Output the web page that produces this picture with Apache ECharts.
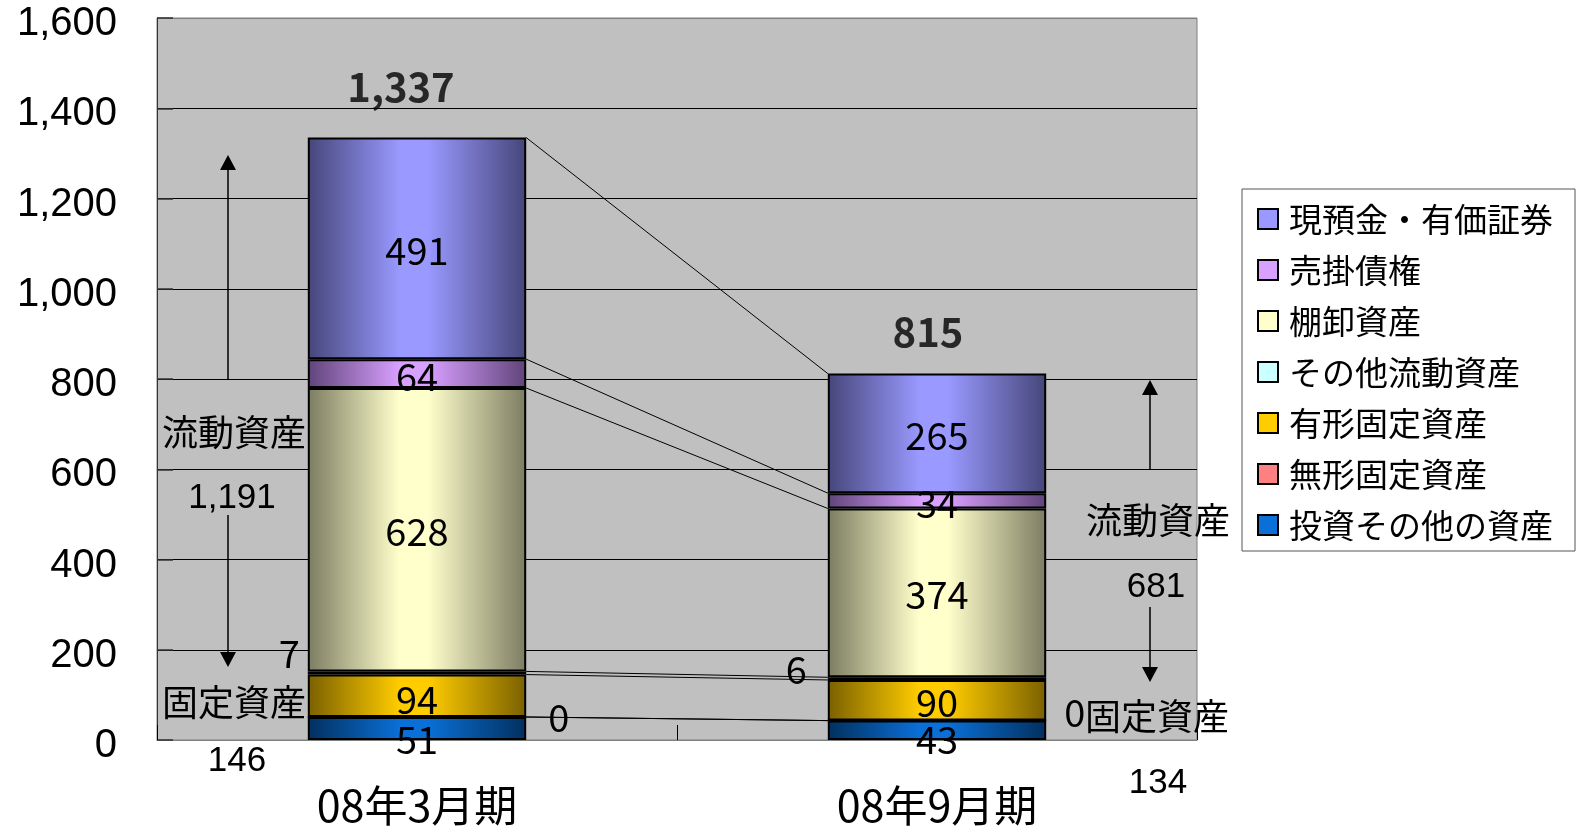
<!DOCTYPE html>
<html>
<head>
<meta charset="utf-8">
<script src="https://cdn.jsdelivr.net/npm/echarts@6/dist/echarts.min.js"></script>
<style>
  html, body { margin: 0; padding: 0; background: #fff; }
  #chart { width: 1582px; height: 833px; }
</style>
</head>
<body>
<div id="chart"></div>
<script>
// 期別
const categories = ['08年3月期', '08年9月期'];

// 資産内訳（億円）— 下から積み上げる順
const investOther  = [51, 43];    // 投資その他の資産
const intangible   = [0, 0];      // 無形固定資産
const tangible     = [94, 90];    // 有形固定資産
const otherCurrent = [7, 6];      // その他流動資産
const inventory    = [628, 374];  // 棚卸資産
const receivables  = [64, 34];    // 売掛債権
const cashSec      = [491, 265];  // 現預金・有価証券

// 合計・区分合計
const totals        = [1337, 815];
const currentTotals = [1191, 681];
const fixedTotals   = [146, 134];

// 縦軸
const yMin = 0, yMax = 1600, yStep = 200;

const JP = '"Noto Sans CJK JP", "Noto Sans", sans-serif';
const LAT = '"Liberation Sans", Arial, sans-serif';

const fmt = v => Number(v).toLocaleString('en-US');

// 系列定義（積み上げ順）
const stackDefs = [
  { name: '投資その他の資産', data: investOther,  light: '#0a6fd6', dark: '#02305f' },
  { name: '無形固定資産',     data: intangible,   light: '#ff8080', dark: '#804040' },
  { name: '有形固定資産',     data: tangible,     light: '#ffcc00', dark: '#7a6000' },
  { name: 'その他流動資産',   data: otherCurrent, light: '#ccffff', dark: '#668080' },
  { name: '棚卸資産',         data: inventory,    light: '#ffffcc', dark: '#7c7c62' },
  { name: '売掛債権',         data: receivables,  light: '#d8a0ff', dark: '#60447a' },
  { name: '現預金・有価証券', data: cashSec,      light: '#9999ff', dark: '#46467a' }
];

// 値ラベルの個別配置
const labelTweaks = {
  '投資その他の資産': [{ offset: [0, 11] }, { offset: [0, 9] }],
  '無形固定資産': [
    { position: 'right', distance: 21, offset: [0, 1] },
    { position: 'right', distance: 17, offset: [0, -8] }
  ],
  'その他流動資産': [
    { position: 'left', distance: 8, offset: [0, -19] },
    { position: 'left', distance: 21, offset: [0, -9] }
  ],
  '売掛債権': [{ offset: [0, 3] }, { offset: [0, 3] }],
  '有形固定資産': [{ offset: [0, 4] }, { offset: [0, 2] }]
};

const barWidthRatio = 0.42;

function shade(light, dark) {
  return new echarts.graphic.LinearGradient(0, 0, 1, 0, [
    { offset: 0, color: dark },
    { offset: 0.42, color: light },
    { offset: 0.55, color: light },
    { offset: 1, color: dark }
  ]);
}

const barSeries = stackDefs.map(d => ({
  name: d.name,
  type: 'bar',
  stack: 'assets',
  barWidth: (barWidthRatio * 100) + '%',
  z: 3,
  itemStyle: { color: shade(d.light, d.dark), borderColor: '#000', borderWidth: 2 },
  label: {
    show: true, position: 'inside', color: '#000',
    fontFamily: JP, fontSize: 38, offset: [0, 2]
  },
  data: d.data.map((v, i) => {
    const t = labelTweaks[d.name] && labelTweaks[d.name][i];
    return t ? { value: v, label: t } : { value: v };
  })
}));

// 各系列の上端（累積値）を期間の間で結ぶ
const cumRows = [];
(function () {
  const acc = [0, 0];
  stackDefs.forEach(d => {
    acc[0] += d.data[0];
    acc[1] += d.data[1];
    cumRows.push([0, acc[0], acc[1]]);
  });
})();

const seriesLines = {
  type: 'custom',
  z: 2,
  silent: true,
  encode: { x: 0, y: 1 },
  data: cumRows,
  renderItem: (params, api) => {
    const a = api.coord([0, api.value(1)]);
    const b = api.coord([1, api.value(2)]);
    const half = api.size([1, 0])[0] * barWidthRatio / 2;
    return {
      type: 'line',
      shape: { x1: a[0] + half, y1: a[1], x2: b[0] - half, y2: b[1] },
      style: { stroke: '#000', lineWidth: 1 }
    };
  }
};

// 合計ラベル
const totalOffsets = [[-16, -50], [-9, -40]];
const totalSeries = {
  type: 'scatter',
  symbolSize: 0,
  z: 5,
  silent: true,
  label: {
    show: true, position: 'inside', color: '#000',
    fontFamily: JP, fontSize: 40, fontWeight: 'bold',
    formatter: p => fmt(p.value[1])
  },
  data: totals.map((v, i) => ({ value: [i, v], label: { offset: totalOffsets[i] } }))
};

// 流動資産・固定資産の区分注記
function arrow(x, yFrom, yTip, up) {
  const head = 15, hw = 8;
  const base = up ? yTip + head : yTip - head;
  return [
    { type: 'line', shape: { x1: x, y1: yFrom, x2: x, y2: base }, style: { stroke: '#000', lineWidth: 1.5 }, z: 10 },
    { type: 'polygon', shape: { points: [[x, yTip], [x - hw, base], [x + hw, base]] }, style: { fill: '#000' }, z: 10 }
  ];
}
function note(text, x, y, font, size) {
  return {
    type: 'text', x: x, y: y, z: 10,
    style: { text: text, fill: '#000', font: size + 'px ' + font, align: 'center', verticalAlign: 'middle' }
  };
}

const graphics = [].concat(
  arrow(228, 380, 155, true),
  arrow(228, 515, 667, false),
  arrow(1150, 470, 380, true),
  arrow(1150, 607, 682, false),
  [
    note('流動資産', 234, 432, JP, 36),
    note(fmt(currentTotals[0]), 232, 498, LAT, 35),
    note('固定資産', 234, 702, JP, 36),
    note(fmt(fixedTotals[0]), 237, 761, LAT, 35),
    note('流動資産', 1158, 520, JP, 36),
    note(fmt(currentTotals[1]), 1156, 587, LAT, 35),
    note('固定資産', 1157, 716, JP, 36),
    note(fmt(fixedTotals[1]), 1158, 783, LAT, 35)
  ]
);

const legendOrder = stackDefs.slice().reverse();

const gridLineColors = [];
for (let v = yMin; v <= yMax; v += yStep) {
  gridLineColors.push(v === yMin || v === yMax ? '#808080' : '#000');
}

const chart = echarts.init(document.getElementById('chart'), null, { renderer: 'canvas' });
chart.setOption({
  animation: false,
  backgroundColor: '#fff',
  grid: {
    left: 157, right: 385, top: 18, bottom: 93,
    show: true, backgroundColor: '#c0c0c0', borderColor: '#808080', borderWidth: 1
  },
  legend: {
    orient: 'vertical',
    left: 1242, top: 189,
    padding: [13, 22, 9, 15],
    itemGap: 17,
    itemWidth: 20, itemHeight: 20,
    icon: 'rect',
    backgroundColor: '#fff',
    borderColor: '#555', borderWidth: 1,
    textStyle: { fontFamily: JP, fontSize: 33, lineHeight: 34, color: '#000', padding: [0, 0, 0, 6] },
    data: legendOrder.map(d => ({
      name: d.name,
      itemStyle: { color: d.light, borderColor: '#000', borderWidth: 2 }
    }))
  },
  xAxis: {
    type: 'category',
    data: categories,
    boundaryGap: true,
    axisLine: { show: true, lineStyle: { color: '#808080', width: 1 } },
    axisTick: { show: true, inside: true, length: 15, lineStyle: { color: '#000', width: 1 } },
    axisLabel: { fontFamily: JP, fontSize: 43, color: '#000', margin: 44 },
    splitLine: { show: false }
  },
  yAxis: {
    type: 'value',
    min: yMin, max: yMax, interval: yStep,
    axisLine: { show: true, lineStyle: { color: '#333', width: 1 } },
    axisTick: { show: true, inside: true, length: 16, lineStyle: { color: '#333', width: 1.5 } },
    axisLabel: {
      fontFamily: LAT, fontSize: 40, color: '#000', margin: 40,
      verticalAlign: 'top', lineHeight: 12, formatter: v => fmt(v)
    },
    splitLine: { show: true, lineStyle: { color: gridLineColors, width: 1 } }
  },
  graphic: graphics,
  series: [seriesLines].concat(barSeries, [totalSeries])
});
</script>
</body>
</html>
